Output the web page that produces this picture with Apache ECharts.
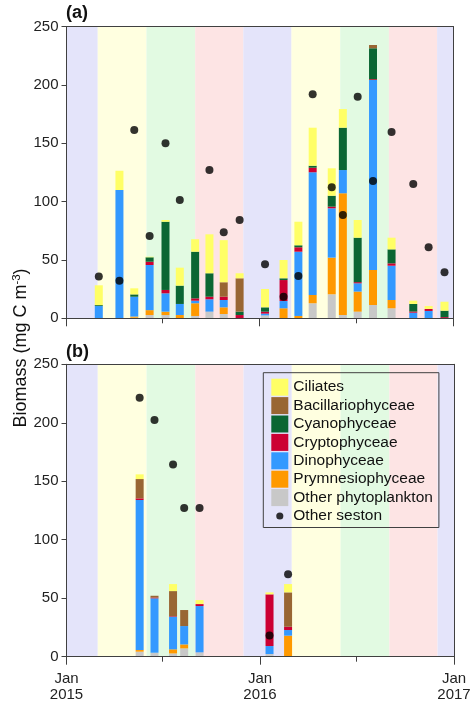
<!DOCTYPE html>
<html><head><meta charset="utf-8">
<script src="https://cdn.jsdelivr.net/npm/echarts@6/dist/echarts.min.js"></script>
<style>html,body{margin:0;padding:0;background:#fff}#c{width:474px;height:707px}</style>
</head><body><div id="c"></div>
<script>
// ---------- DATA ----------
const groupNames = ['Other phytoplankton','Prymnesiophyceae','Dinophyceae','Cryptophyceae','Cyanophyceae','Bacillariophyceae','Ciliates'];
const legendOrder = ['Ciliates','Bacillariophyceae','Cyanophyceae','Cryptophyceae','Dinophyceae','Prymnesiophyceae','Other phytoplankton','Other seston'];

// Panel (a)
const datesA = ['2015-03-03','2015-04-11','2015-05-09','2015-06-07','2015-07-07','2015-08-03','2015-09-01','2015-09-28','2015-10-25','2015-11-24','2016-01-11','2016-02-15','2016-03-14','2016-04-10','2016-05-16','2016-06-06','2016-07-04','2016-08-02','2016-09-06','2016-10-17','2016-11-15','2016-12-15'];
const otherPhytoA = [0, 0, 0.5, 2.8, 2.8, 0, 2, 5.7, 3.7, 0, 2.5, 0, 0, 12.9, 20.6, 2.8, 5.7, 11.4, 8.6, 0, 0, 0];
const prymA      = [0, 0, 1, 4.2, 2.9, 2.8, 10.9, 0, 5.7, 0, 0, 8.6, 2, 7.1, 31.4, 104.4, 17.2, 30, 7.1, 0, 0, 0];
const dinoA      = [10.5, 110, 17, 38.7, 15.7, 9.5, 2.2, 10.6, 6.3, 0, 1.5, 6.2, 55.1, 105.2, 42.3, 19.9, 7.1, 162.9, 29.4, 4.8, 6.3, 0];
const cryptoA    = [0, 0, 0, 2.8, 2.9, 0, 2, 2.2, 2.8, 2.8, 1.7, 18, 3.8, 3.9, 1.4, 0, 1, 0.7, 2, 1, 1.7, 1];
const cyanoA     = [0.8, 0, 2, 3.8, 58.5, 15.7, 40, 20.1, 0, 2.9, 3.7, 1.5, 1.7, 1.7, 9.4, 36.3, 38.1, 26.5, 12, 6.5, 0, 5.5];
const bacilA     = [0, 0, 0, 0, 0, 0, 0, 0, 12.4, 28.6, 0, 0, 0, 0, 0, 0, 0, 2.8, 0, 0, 0, 0];
const ciliA      = [17, 16.5, 5.2, 0.5, 1.5, 15.4, 10.7, 33.4, 36.1, 4.3, 15.7, 15.7, 20.2, 32.6, 23.5, 16.0, 15.2, 0, 10, 2.8, 2.5, 7.7];
const sestonA    = [35.8, 32.2, 161.4, 70.6, 150, 101.4, null, 127.1, 73.7, 84.3, 46.3, 18.5, 36.3, 192, 112.3, 88.6, 190, 117.7, 159.7, 115.1, 60.9, 39.4];

// Panel (b)
const datesB = ['2015-05-19','2015-06-16','2015-07-21','2015-08-11','2015-09-09','2016-01-19','2016-02-23'];
const otherPhytoB = [4.3, 3.4, 2.8, 7.1, 3.7, 2.3, 0];
const prymB      = [1.4, 0, 3.5, 3.4, 0, 0, 18];
const dinoB      = [128.3, 46.5, 27.9, 15.7, 39.6, 6.8, 4.8];
const cryptoB    = [1.4, 0.7, 0.5, 0, 1.7, 44.2, 2.8];
const cyanoB     = [0, 0, 0, 0, 0, 0, 0];
const bacilB     = [16.5, 1.5, 21.4, 13.7, 0, 0, 29.4];
const ciliB      = [4, 0, 6, 0, 3.4, 1.7, 7.1];
const sestonB    = [221.4, 202.3, 164.4, 127.1, 127.1, 18.2, 70.4];

// Seasons (background bands)
const seasonBounds = ['2015-01-01','2015-03-01','2015-06-01','2015-09-01','2015-12-01','2016-03-01','2016-06-01','2016-09-01','2016-12-01','2017-01-01'];
const seasonKinds  = [0, 1, 2, 3, 0, 1, 2, 3, 0]; // 0 winter, 1 spring, 2 summer, 3 autumn

// Axis ticks
const janTicks = ['2015-01-01','2016-01-01','2017-01-01'];
const julTicks = ['2015-07-01','2016-07-01'];

// ---------- STYLE ----------
const groupColors = {
  'Ciliates':'#ffff66','Bacillariophyceae':'#996633','Cyanophyceae':'#0b6633',
  'Cryptophyceae':'#cc0033','Dinophyceae':'#3399ff','Prymnesiophyceae':'#ff9900',
  'Other phytoplankton':'#c8c8c8'
};
const seasonColors = ['#e4e4fa','#ffffe0','#e2fae2','#fde4e4'];
const FONT = '"Liberation Sans", Arial, sans-serif';
const AX = '#404040';

function ts(s){const p=s.split('-');return Date.UTC(+p[0],+p[1]-1,+p[2]);}
const xMin = ts('2015-01-01'), xMax = ts('2017-01-01');

const panels = [
  {dates: datesA, seston: sestonA, vals: {'Other phytoplankton':otherPhytoA,'Prymnesiophyceae':prymA,'Dinophyceae':dinoA,'Cryptophyceae':cryptoA,'Cyanophyceae':cyanoA,'Bacillariophyceae':bacilA,'Ciliates':ciliA}},
  {dates: datesB, seston: sestonB, vals: {'Other phytoplankton':otherPhytoB,'Prymnesiophyceae':prymB,'Dinophyceae':dinoB,'Cryptophyceae':cryptoB,'Cyanophyceae':cyanoB,'Bacillariophyceae':bacilB,'Ciliates':ciliB}}
];

const grids = [
  {left: 66.5, top: 26.7, width: 387, height: 291.6},
  {left: 66.5, top: 364.3, width: 387.5, height: 292.4}
];

const xAxes = [], yAxes = [], series = [];
const seasonData = seasonKinds.map((k,i)=>[ts(seasonBounds[i]), ts(seasonBounds[i+1]), k]);

panels.forEach((p, gi) => {
  const showLabels = gi === 1;
  xAxes.push({
    type:'value', gridIndex: gi, position:'bottom', min:xMin, max:xMax, z:5,
    axisLine:{show:true, lineStyle:{color:AX, width:1}},
    axisTick:{show:true, length:8, lineStyle:{color:AX}, customValues: janTicks.map(ts)},
    axisLabel:{show: showLabels, customValues: janTicks.map(ts), fontSize:15, fontFamily:FONT, color:'#222', lineHeight:16, margin:14,
      formatter: v => 'Jan\n' + new Date(v).getUTCFullYear()},
    splitLine:{show:false}
  });
  xAxes.push({
    type:'value', gridIndex: gi, position:'bottom', min:xMin, max:xMax, z:5,
    axisLine:{show:false},
    axisTick:{show:true, length:5, lineStyle:{color:AX}, customValues: julTicks.map(ts)},
    axisLabel:{show:false}, splitLine:{show:false}
  });
  xAxes.push({
    type:'value', gridIndex: gi, position:'top', min:xMin, max:xMax, z:5,
    axisLine:{show:true, lineStyle:{color:AX, width:1}},
    axisTick:{show:false}, axisLabel:{show:false}, splitLine:{show:false}
  });
  yAxes.push({
    type:'value', gridIndex: gi, position:'left', min:0, max:250, interval:50, z:5,
    axisLine:{show:true, lineStyle:{color:AX, width:1}},
    axisTick:{show:true, length:5, lineStyle:{color:AX}},
    axisLabel:{fontSize:15, fontFamily:FONT, color:'#222', margin:8},
    splitLine:{show:false}
  });
  yAxes.push({
    type:'value', gridIndex: gi, position:'right', min:0, max:250, interval:50, z:5,
    axisLine:{show:true, lineStyle:{color:AX, width:1}},
    axisTick:{show:false}, axisLabel:{show:false}, splitLine:{show:false}
  });

  const xi = gi*3, yi = gi*2;
  series.push({
    type:'custom', name:'seasons'+gi, xAxisIndex: xi, yAxisIndex: yi, z:1, silent:true,
    encode:{x:[0,1]}, data: seasonData,
    renderItem: (params, api) => {
      const cs = params.coordSys;
      const x0 = api.coord([api.value(0), 0])[0];
      const x1 = api.coord([api.value(1), 0])[0];
      return {type:'rect', shape:{x:x0, y:cs.y, width:x1-x0, height:cs.height},
              style:{fill: seasonColors[api.value(2)]}};
    }
  });
  groupNames.forEach(g => {
    series.push({
      type:'bar', name:g, xAxisIndex: xi, yAxisIndex: yi, stack:'s'+gi, barWidth:8, z:2,
      encode:{x:1, y:0},
      itemStyle:{color: groupColors[g]},
      data: p.dates.map((d,i)=>[p.vals[g][i], ts(d)])
    });
  });
  series.push({
    type:'scatter', name:'Other seston', xAxisIndex: xi, yAxisIndex: yi, z:4,
    symbol:'circle', symbolSize:8, itemStyle:{color:'#000'},
    data: p.dates.map((d,i)=>[ts(d), p.seston[i]])
  });
});

const chart = echarts.init(document.getElementById('c'), null, {renderer:'canvas'});
chart.setOption({
  animation:false,
  textStyle:{fontFamily:FONT},
  grid: grids,
  xAxis: xAxes,
  yAxis: yAxes,
  legend: {
    orient:'vertical', left:263.3, top:372.7, padding:[6,6,3,8],
    borderColor:AX, borderWidth:1, backgroundColor:'transparent',
    itemWidth:17, itemHeight:17, itemGap:1.4,
    itemStyle:{borderWidth:0},
    textStyle:{fontSize:15.5, fontFamily:FONT, color:'#111', lineHeight:17},
    data: legendOrder.map(n => n === 'Other seston'
      ? {name:n, icon:'path://M0,0L0,0M20,20L20,20M5.8,10A4.2,4.2,0,1,1,14.2,10A4.2,4.2,0,1,1,5.8,10Z'}
      : {name:n, icon:'rect'})
  },
  graphic: [
    {type:'text', left:66, top:4, style:{text:'(a)', font:'bold 18px ' + FONT, fill:'#111'}},
    {type:'text', left:66, top:343, style:{text:'(b)', font:'bold 18px ' + FONT, fill:'#111'}},
    {type:'text', x:21, y:348, rotation:Math.PI/2,
     style:{text:'{a|Biomass (mg C m}{s|-3}{a|)}', align:'center', verticalAlign:'middle',
       rich:{a:{fontSize:18, fontFamily:FONT, fill:'#111', lineHeight:21},
             s:{fontSize:11.5, fontFamily:FONT, fill:'#111', lineHeight:12, verticalAlign:'top'}}}}
  ],
  series: series
});
</script>
</body></html>
